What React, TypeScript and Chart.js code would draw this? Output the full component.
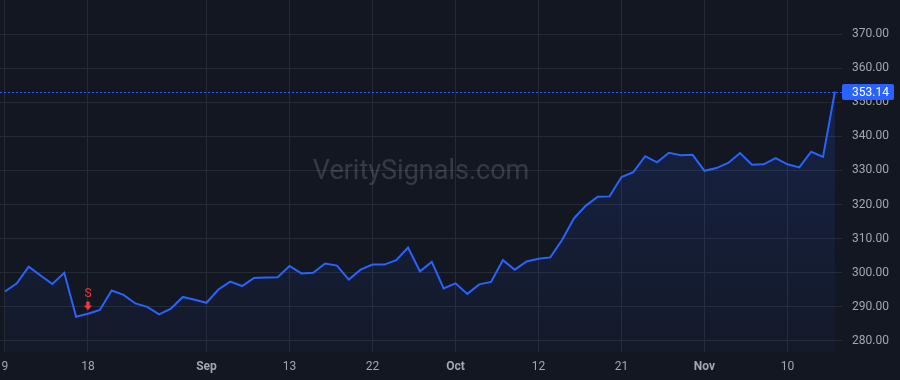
import React, { useEffect, useRef } from "react";
import { Chart, registerables } from "chart.js";

Chart.register(...registerables);

// ---- data ----
const closes: number[] = [
  294.5, 296.9, 301.8, 299.2, 296.7, 300.0, 287.1, 288.0, 289.1, 294.8,
  293.5, 291.0, 290.0, 287.8, 289.5, 292.9, 292.1, 291.2, 295.1, 297.4,
  296.1, 298.5, 298.6, 298.7, 302.0, 299.8, 300.0, 302.7, 302.1, 298.0,
  300.9, 302.4, 302.4, 303.7, 307.4, 300.4, 303.2, 295.4, 296.9, 293.8,
  296.6, 297.3, 303.7, 300.9, 303.3, 304.1, 304.5, 309.7, 316.0, 319.7,
  322.3, 322.4, 328.1, 329.5, 334.2, 332.4, 335.2, 334.5, 334.6, 329.9,
  330.7, 332.2, 335.1, 331.7, 331.8, 333.6, 331.8, 330.9, 335.5, 334.0,
  353.14,
];
const xTickIndex: number[] = [0, 7, 17, 24, 31, 38, 45, 52, 59, 66];
const xTickText: string[] = ["9", "18", "Sep", "13", "22", "Oct", "12", "21", "Nov", "10"];
const monthTicks: string[] = ["Sep", "Oct", "Nov"];
const yTickValues: number[] = [280, 290, 300, 310, 320, 330, 340, 350, 360, 370];
const signalIndex = 7;
const signalText = "S";
const watermark = "VeritySignals.com";

const BG = "#131722";
const GRID = "#262a35";
const TEXT = "#a3a6af";
const BLUE = "#2962ff";
const RED = "#f23645";
const FONT = "Roboto, 'Liberation Sans', sans-serif";

const noPad = (axis: any) => {
  axis.paddingTop = 0;
  axis.paddingBottom = 0;
  axis.paddingLeft = 0;
  axis.paddingRight = 0;
};

export default function App() {
  const ref = useRef<HTMLCanvasElement | null>(null);

  useEffect(() => {
    document.body.style.margin = "0";
    document.body.style.background = BG;
    const canvas = ref.current!;
    const points = closes.map((v, i) => ({ x: i, y: v }));
    const last = closes[closes.length - 1];

    const bgPlugin = {
      id: "bg",
      beforeDraw(chart: any) {
        const c = chart.ctx;
        c.save();
        c.fillStyle = BG;
        c.fillRect(0, 0, chart.width, chart.height);
        c.restore();
      },
      beforeDatasetsDraw(chart: any) {
        const c = chart.ctx;
        const a = chart.chartArea;
        c.save();
        c.font = `27px ${FONT}`;
        c.fillStyle = "rgba(255,255,255,0.15)";
        c.textAlign = "center";
        c.textBaseline = "middle";
        c.fillText(watermark, a.left + (a.right - a.left) / 2, 172);
        c.restore();
      },
      afterDatasetsDraw(chart: any) {
        const c = chart.ctx;
        const xs = chart.scales.x;
        const ys = chart.scales.y;
        const a = chart.chartArea;
        // signal marker
        const px = xs.getPixelForValue(signalIndex);
        const py = ys.getPixelForValue(closes[signalIndex]);
        c.save();
        c.fillStyle = RED;
        const tip = py - 3.5;
        c.beginPath();
        c.moveTo(px - 1.7, tip - 8.6);
        c.lineTo(px + 1.7, tip - 8.6);
        c.lineTo(px + 1.7, tip - 4.6);
        c.lineTo(px + 4, tip - 4.6);
        c.lineTo(px, tip);
        c.lineTo(px - 4, tip - 4.6);
        c.lineTo(px - 1.7, tip - 4.6);
        c.closePath();
        c.fill();
        c.font = `12px ${FONT}`;
        c.textAlign = "center";
        c.textBaseline = "middle";
        c.fillText(signalText, px, py - 19.4);
        c.restore();

        // price line
        const ly = Math.round(ys.getPixelForValue(last)) + 0.5;
        c.save();
        c.strokeStyle = BLUE;
        c.lineWidth = 1;
        c.setLineDash([2, 2]);
        c.beginPath();
        c.moveTo(0, ly);
        c.lineTo(a.right, ly);
        c.stroke();
        c.setLineDash([]);
        // price label
        const bx = a.right;
        const bw = 52;
        const bh = 16;
        c.fillStyle = BLUE;
        c.beginPath();
        (c as any).roundRect(bx, ly - bh / 2 - 0.5, bw, bh, 2);
        c.fill();
        c.fillStyle = "#ffffff";
        c.font = `12px ${FONT}`;
        c.textAlign = "left";
        c.textBaseline = "middle";
        c.fillText(last.toFixed(2), a.right + 10, ly);
        c.restore();
      },
    };

    const chart = new Chart(canvas, {
      type: "line",
      data: {
        datasets: [
          {
            data: points,
            borderColor: BLUE,
            borderWidth: 2,
            pointRadius: 0,
            tension: 0,
            fill: "start",
            backgroundColor: (ctx: any) => {
              const ch = ctx.chart;
              const a = ch.chartArea;
              if (!a) return "rgba(41,98,255,0.1)";
              const top = ch.scales.y.getPixelForValue(Math.max(...closes));
              const g = ch.ctx.createLinearGradient(0, top, 0, a.bottom);
              g.addColorStop(0, "rgba(41,98,255,0.16)");
              g.addColorStop(1, "rgba(41,98,255,0.03)");
              return g;
            },
          },
        ],
      },
      options: {
        animation: false,
        responsive: false,
        maintainAspectRatio: false,
        devicePixelRatio: 1,
        layout: { padding: 0, autoPadding: false },
        plugins: {
          legend: { display: false },
          tooltip: { enabled: false },
        },
        scales: {
          x: {
            type: "linear",
            min: -0.42,
            max: 70.6,
            afterBuildTicks: (axis: any) => {
              axis.ticks = xTickIndex.map((v) => ({ value: v }));
            },
            afterFit: (axis: any) => {
              axis.height = 28;
              noPad(axis);
            },
            grid: { color: GRID, drawTicks: false, lineWidth: 1 },
            border: { display: false },
            ticks: {
              autoSkip: false,
              maxRotation: 0,
              padding: 8,
              color: TEXT,
              callback: (_v: any, i: number) => xTickText[i],
              font: (ctx: any) => ({
                family: FONT,
                size: 12,
                weight: monthTicks.includes(xTickText[ctx.index]) ? "bold" : "normal",
              }),
            },
          },
          y: {
            position: "right",
            min: 276.76,
            max: 380,
            afterBuildTicks: (axis: any) => {
              axis.ticks = yTickValues.map((v) => ({ value: v }));
            },
            afterFit: (axis: any) => {
              axis.width = 58;
              noPad(axis);
            },
            grid: { color: GRID, drawTicks: false, lineWidth: 1 },
            border: { display: false },
            ticks: {
              padding: 10,
              color: TEXT,
              font: { family: FONT, size: 12 },
              callback: (v: any) => Number(v).toFixed(2),
            },
          },
        },
      } as any,
      plugins: [bgPlugin],
    });
    return () => chart.destroy();
  }, []);

  return (
    <div style={{ width: 900, height: 380, background: BG }}>
      <canvas ref={ref} width={900} height={380} style={{ display: "block" }} />
    </div>
  );
}
